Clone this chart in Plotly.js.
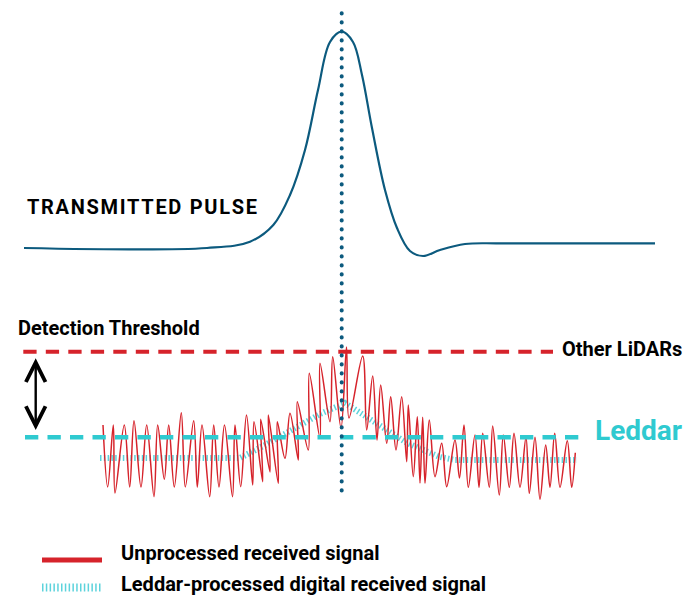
<!DOCTYPE html>
<html>
<head>
<meta charset="utf-8">
<script src="https://cdn.plot.ly/plotly-3.0.1.min.js"></script>
<style>
  html, body { margin: 0; padding: 0; background: #fff; }
  #chart { width: 696px; height: 596px; }
  .scatterlayer .trace:last-child .js-line { stroke-linecap: round; }
  .annotation[data-index="0"] .annotation-text { letter-spacing: 1.7px; }
</style>
</head>
<body>
<div id="chart"></div>
<script>
// ---- data (time axis, signal level; level axis points downward) ----
const pulseTime = [24, 207, 250, 273.3, 290, 305, 318, 330, 341.7, 353, 362, 372, 385, 397, 410, 423, 440, 465, 500, 655];
const pulseLevel = [248, 248, 241.7, 225, 195, 150, 90, 42, 31.7, 42, 75, 128, 190, 228, 251, 256, 250, 244, 243.3, 243.3];

const rawTime = [103, 107.7, 113.3, 115, 124.3, 129.7, 134, 141, 146.7, 154, 157.7, 164.3, 168.7, 174.3, 181.3, 185.3, 193.7, 197.3, 202, 209.7, 213.7, 219, 224.5, 232.5, 235, 240.7,
  246.5, 252.7, 254, 262.7, 260.7, 270, 268.3, 278.3, 277.3, 285, 290, 298.3, 297.3, 308.3, 309.3, 320, 320, 330, 332.7,
  341, 346.5, 349, 362.7,
  366.7, 372.7, 377, 380.7, 386.7, 390.7, 396, 401.7, 406.7, 408.3, 413.3, 417.3, 420, 422.7, 425, 429.3, 435, 441.7, 446.7, 455, 459.5,
  464, 468.3, 475, 479, 482.7, 489.3, 492.7, 499.3, 503.3, 509.3, 514, 520, 526, 529.3, 535, 540, 545.7, 550, 554.7, 560, 567.3, 571.7, 575.3];
const rawLevel = [425, 487, 425, 493, 425, 487, 420.7, 487, 425, 496.7, 425, 479.3, 425, 487, 412.7, 487, 420.7, 487, 425, 496.7, 425, 487, 425, 496.7, 425, 486.7,
  415, 485, 421.7, 481.7, 419.3, 472, 415, 483.3, 421.7, 458.3, 413.3, 460, 401.7, 450, 373.3, 438, 363.3, 421.7, 356.7,
  428, 347, 418, 356,
  430, 376, 440, 385, 443.3, 396.7, 450, 396.7, 461.7, 405, 476.7, 416.7, 483, 417.3, 483.3, 420, 476.7, 443.3, 486.7, 440, 478,
  425, 487.3, 435, 487.3, 433.3, 487.3, 426, 495, 435, 487.3, 433.3, 487.3, 437.3, 493.3, 437.3, 499.3, 445, 487.3, 433.3, 487.3, 440.7, 487.3, 452.7];

const procTime = [100, 240, 267, 300, 320, 345, 353, 387, 407, 440, 455, 577];
const procLevel = [458, 458, 444, 425, 414, 403, 408, 430, 443, 457, 460, 460];

const otherLidarLevel = 351.7;
const leddarLevel = 437.3;
const thresholdSpan = [23.3, 553];
const leddarSpan = [25, 581];
const pulsePeakTime = 341.7;
const markerSpan = [13.3, 491];

const labels = {
  pulse: 'TRANSMITTED PULSE',
  detection: 'Detection Threshold',
  other: 'Other LiDARs',
  leddar: 'Leddar',
  raw: 'Unprocessed received signal',
  proc: 'Leddar-processed digital received signal'
};

// ---- colours ----
const RED = '#D6232B', CYAN = '#2FCAD0', CYAN_LIGHT = '#5DD3DC', BLUE = '#0C5A7E';
const FONT = 'Roboto, "Open Sans", sans-serif';

const traces = [
  { x: procTime, y: procLevel, mode: 'lines', line: { color: CYAN_LIGHT, width: 6, dash: '1.5px,2.3px' } },
  { x: rawTime, y: rawLevel, mode: 'lines', line: { color: RED, width: 1.5, shape: 'spline', smoothing: 1 } },
  { x: pulseTime, y: pulseLevel, mode: 'lines', line: { color: BLUE, width: 2.2, shape: 'spline', smoothing: 1 } },
  { x: thresholdSpan, y: [otherLidarLevel, otherLidarLevel], mode: 'lines', line: { color: RED, width: 4, dash: '13.3px,9.2px' } },
  { x: leddarSpan, y: [leddarLevel, leddarLevel], mode: 'lines', line: { color: CYAN, width: 4.5, dash: '13.3px,9.2px' } },
  { x: [pulsePeakTime, pulsePeakTime], y: markerSpan, mode: 'lines', line: { color: BLUE, width: 4, dash: '0.1px,8.9px' } }
];

const bold = (size, color) => ({ family: FONT, size: size, color: color || '#000', weight: 700 });

const layout = {
  width: 696, height: 596,
  margin: { l: 0, r: 0, t: 0, b: 0 },
  paper_bgcolor: '#fff', plot_bgcolor: '#fff',
  showlegend: false,
  xaxis: { range: [0, 696], visible: false, fixedrange: true },
  yaxis: { range: [596, 0], visible: false, fixedrange: true },
  annotations: [
    { x: 25, y: 207, xref: 'x', yref: 'y', text: labels.pulse, showarrow: false, xanchor: 'left', yanchor: 'middle', align: 'left', font: bold(20) },
    { x: 16, y: 328, xref: 'x', yref: 'y', text: labels.detection, showarrow: false, xanchor: 'left', yanchor: 'middle', align: 'left', font: bold(20) },
    { x: 560, y: 349, xref: 'x', yref: 'y', text: labels.other, showarrow: false, xanchor: 'left', yanchor: 'middle', align: 'left', font: bold(20) },
    { x: 593, y: 430, xref: 'x', yref: 'y', text: labels.leddar, showarrow: false, xanchor: 'left', yanchor: 'middle', align: 'left', font: bold(28, CYAN) },
    { x: 119, y: 553, xref: 'x', yref: 'y', text: labels.raw, showarrow: false, xanchor: 'left', yanchor: 'middle', align: 'left', font: bold(20) },
    { x: 119, y: 584, xref: 'x', yref: 'y', text: labels.proc, showarrow: false, xanchor: 'left', yanchor: 'middle', align: 'left', font: bold(20) },
    { x: 35.7, y: 430, ax: 35.7, ay: 356.7, xref: 'x', yref: 'y', axref: 'x', ayref: 'y', text: '', showarrow: true,
      arrowside: 'end+start', arrowhead: 5, startarrowhead: 5, arrowsize: 1.6, startarrowsize: 1.6, arrowwidth: 2.4,
      arrowcolor: '#000', standoff: 0, startstandoff: 0 }
  ],
  shapes: [
    { type: 'line', xref: 'x', yref: 'y', x0: 42, x1: 102, y0: 560, y1: 560, line: { color: RED, width: 5 } },
    { type: 'line', xref: 'x', yref: 'y', x0: 42, x1: 102, y0: 587.5, y1: 587.5, line: { color: CYAN_LIGHT, width: 8, dash: '1.5px,2.3px' } }
  ]
};

Plotly.newPlot('chart', traces, layout, { staticPlot: true, displayModeBar: false });
</script>
</body>
</html>
